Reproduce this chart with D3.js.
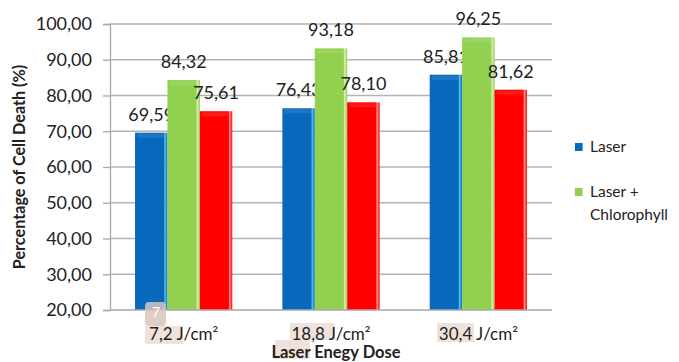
<!DOCTYPE html>
<html><head><meta charset="utf-8">
<script src="https://cdn.jsdelivr.net/npm/d3@7"></script>
<style>html,body{margin:0;padding:0;background:#fff;}svg{display:block;}</style>
</head><body>
<script>
const categories = ["7,2 J/cm²", "18,8 J/cm²", "30,4 J/cm²"];
const seriesNames = ["Laser", "Laser + Chlorophyll", "Laser (red)"];
const laser = [69.59, 76.43, 85.81];
const laserChlorophyll = [84.32, 93.18, 96.25];
const redSeries = [75.61, 78.10, 81.62];
const yTicks = [20, 30, 40, 50, 60, 70, 80, 90, 100];
const seriesValues = [laser, laserChlorophyll, redSeries];
const colors = ["#0868bd", "#92d050", "#ff0000"];
const edgeColors = ["#54c0f0", "#d8f0b0", "#ff9090"];

const W = 679, H = 362;
const m = {left: 110, right: 552, top: 24, bottom: 310};
const FONT = "Lato, 'Open Sans', sans-serif";
const fmt = v => d3.format(".2f")(v).replace(".", ",");

const svg = d3.select("body").append("svg").attr("width", W).attr("height", H);
const defs = svg.append("defs");
colors.forEach((c, i) => {
  const g = defs.append("linearGradient").attr("id", "g" + i).attr("x1", 0).attr("x2", 1).attr("y1", 0).attr("y2", 0);
  g.append("stop").attr("offset", "0%").attr("stop-color", c);
  g.append("stop").attr("offset", "88%").attr("stop-color", c);
  g.append("stop").attr("offset", "92%").attr("stop-color", edgeColors[i]);
  g.append("stop").attr("offset", "100%").attr("stop-color", c);
});

const y = d3.scaleLinear().domain([20, 100]).range([m.bottom, m.top]);
const x0 = d3.scaleBand().domain(categories).range([m.left, m.right]).paddingInner(0.34).paddingOuter(0.17);
const x1 = d3.scaleBand().domain(d3.range(3)).range([0, x0.bandwidth()]);

// gridlines
svg.append("g").selectAll("line").data(yTicks.slice(1)).join("line")
  .attr("x1", m.left).attr("x2", m.right)
  .attr("y1", d => y(d)).attr("y2", d => y(d))
  .attr("stroke", "#b4b4b4").attr("stroke-width", 1.3);

// y axis
const yAxis = svg.append("g").attr("transform", `translate(${m.left},0)`)
  .call(d3.axisLeft(y).tickValues(yTicks).tickFormat(fmt).tickSize(7).tickPadding(11));
yAxis.select(".domain").attr("stroke", "#a8a8a8").attr("stroke-width", 1.3);
yAxis.selectAll(".tick line").attr("stroke", "#a8a8a8").attr("stroke-width", 1.3);
yAxis.selectAll("text").attr("font-family", FONT).attr("font-size", 18).attr("fill", "#222");

// highlight artifacts behind category labels
const hl = "#efe2da";
svg.append("rect").attr("x", 145).attr("y", 326).attr("width", 38).attr("height", 18).attr("fill", hl);
svg.append("rect").attr("x", 290).attr("y", 323).attr("width", 45).attr("height", 17).attr("fill", hl);
svg.append("rect").attr("x", 275).attr("y", 340).attr("width", 35).attr("height", 19).attr("fill", hl);
svg.append("rect").attr("x", 437).attr("y", 323).attr("width", 37).attr("height", 19).attr("fill", hl);

// bars
const groups = svg.append("g").selectAll("g").data(categories).join("g")
  .attr("transform", d => `translate(${x0(d)},0)`);
groups.each(function(cat, ci) {
  const g = d3.select(this);
  seriesValues.forEach((vals, si) => {
    const v = vals[ci];
    const bx = x1(si), bw = x1.bandwidth(), by = y(v), bh = y(20) - y(v);
    g.append("rect").attr("x", bx).attr("y", by).attr("width", bw).attr("height", bh)
      .attr("fill", `url(#g${si})`);
    g.append("rect").attr("x", bx + 2).attr("y", by + 1).attr("width", bw - 5).attr("height", 4)
      .attr("rx", 2).attr("fill", "#fff").attr("opacity", 0.1);
    g.append("text").attr("x", bx + bw / 2).attr("y", by - 12)
      .attr("text-anchor", "middle").attr("font-family", FONT).attr("font-size", 18)
      .attr("fill", "#222").text(fmt(v));
  });
});

// x axis line
svg.append("line").attr("x1", m.left).attr("x2", m.right).attr("y1", m.bottom).attr("y2", m.bottom)
  .attr("stroke", "#a8a8a8").attr("stroke-width", 1.3);

// "7" note box
svg.append("rect").attr("x", 145).attr("y", 302).attr("width", 21).attr("height", 24).attr("rx", 4)
  .attr("fill", "#d9c6bb").attr("opacity", 0.85);
svg.append("text").attr("x", 156).attr("y", 317).attr("text-anchor", "middle").attr("font-family", FONT)
  .attr("font-size", 14).attr("fill", "#fff").text("7");

// category labels
svg.append("g").selectAll("text").data(categories).join("text")
  .attr("x", d => x0(d) + x0.bandwidth() / 2).attr("y", 340)
  .attr("text-anchor", "middle").attr("font-family", FONT).attr("font-size", 17)
  .attr("fill", "#222").text(d => d);

// axis titles
svg.append("text").attr("x", 336).attr("y", 358).attr("text-anchor", "middle")
  .attr("font-family", FONT).attr("font-weight", "bold").attr("font-size", 16.5).attr("fill", "#222")
  .text("Laser Enegy Dose");
svg.append("text").attr("transform", `translate(25,${(m.top + m.bottom) / 2}) rotate(-90)`)
  .attr("text-anchor", "middle").attr("font-family", FONT).attr("font-weight", "bold")
  .attr("font-size", 16.2).attr("fill", "#222").text("Percentage of Cell Death (%)");

// legend
const legend = svg.append("g");
const legY = [143, 188];
[0, 1].forEach(i => {
  legend.append("rect").attr("x", 575).attr("y", legY[i]).attr("width", 8).attr("height", 8)
    .attr("fill", `url(#g${i})`);
});
legend.append("text").attr("x", 590).attr("y", 152).attr("font-family", FONT).attr("font-size", 15.5)
  .attr("fill", "#222").text(seriesNames[0]);
const t2 = legend.append("text").attr("font-family", FONT).attr("font-size", 15.5).attr("fill", "#222");
t2.append("tspan").attr("x", 590).attr("y", 197).text("Laser +");
t2.append("tspan").attr("x", 590).attr("y", 220).text("Chlorophyll");
</script>
</body></html>
